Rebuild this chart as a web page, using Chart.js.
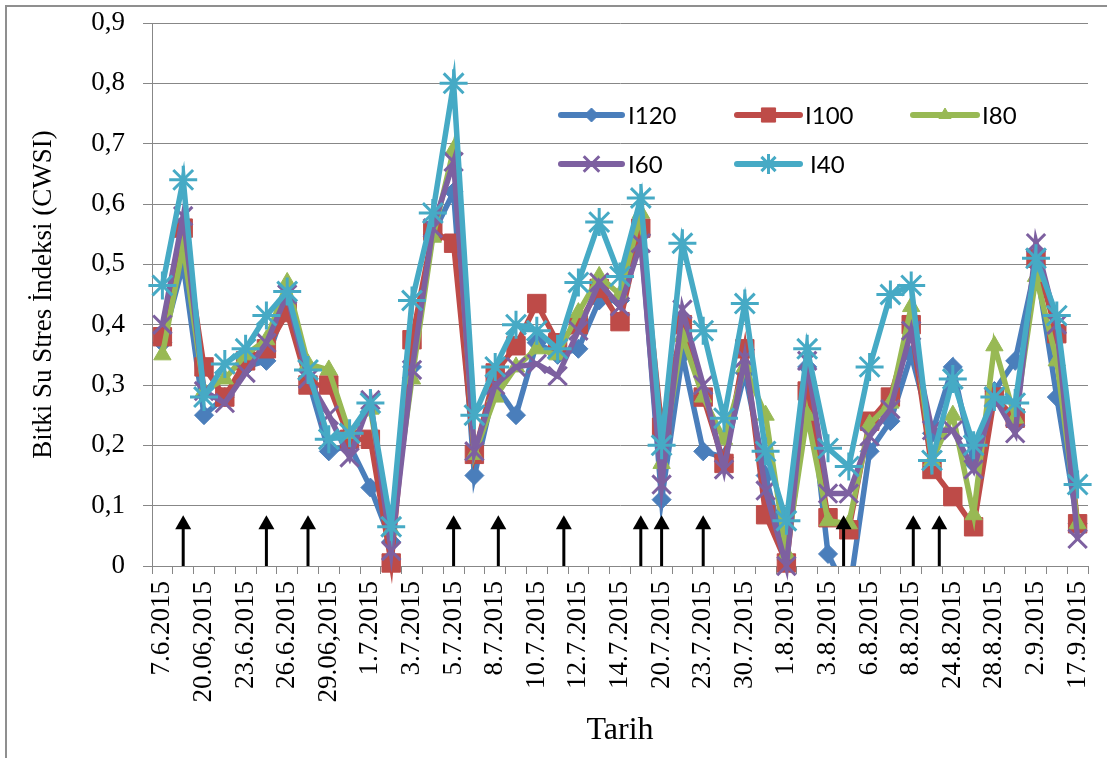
<!DOCTYPE html>
<html>
<head>
<meta charset="utf-8">
<script src="https://cdn.jsdelivr.net/npm/chart.js@4.4.0/dist/chart.umd.min.js"></script>
<style>
  html, body { margin: 0; padding: 0; background: #fff; }
  #wrap { position: relative; width: 1107px; height: 758px; }
</style>
</head>
<body>
<div id="wrap"><canvas id="c"></canvas></div>
<script>
// Category axis: 45 measurement dates, only every other one is labelled in the original
const categories = [
  '7.6.2015', '', '20.06,2015', '', '23.6.2015', '', '26.6.2015', '', '29.06,2015', '',
  '1.7.2015', '', '3.7.2015', '', '5.7.2015', '', '8.7.2015', '', '10.7.2015', '',
  '12.7.2015', '', '14.7.2015', '', '20.7.2015', '', '23.7.2015', '', '30.7.2015', '',
  '1.8.2015', '', '3.8.2015', '', '6.8.2015', '', '8.8.2015', '', '24.8.2015', '',
  '28.8.2015', '', '2.9.2015', '', '17.9.2015'
];

// CWSI series
const i120 = [0.37, 0.50, 0.25, 0.28, 0.33, 0.34, 0.44, 0.31, 0.19, 0.20,
              0.13, 0.04, 0.33, 0.55, 0.62, 0.15, 0.30, 0.25, 0.37, 0.35,
              0.36, 0.44, 0.44, 0.55, 0.11, 0.35, 0.19, 0.18, 0.32, 0.15,
              0.01, 0.33, 0.02, -0.05, 0.19, 0.24, 0.35, 0.22, 0.33, 0.17,
              0.29, 0.34, 0.50, 0.28, 0.07];
const i100 = [0.38, 0.56, 0.33, 0.28, 0.34, 0.36, 0.42, 0.30, 0.30, 0.21,
              0.21, 0.005, 0.375, 0.555, 0.535, 0.185, 0.32, 0.365, 0.435, 0.37,
              0.40, 0.46, 0.405, 0.56, 0.23, 0.40, 0.28, 0.17, 0.36, 0.085,
              0.005, 0.29, 0.08, 0.06, 0.24, 0.28, 0.40, 0.16, 0.115, 0.065,
              0.28, 0.245, 0.51, 0.385, 0.07];
const i80  = [0.35, 0.53, 0.29, 0.31, 0.35, 0.375, 0.47, 0.335, 0.325, 0.22,
              0.26, 0.06, 0.31, 0.545, 0.69, 0.185, 0.28, 0.33, 0.36, 0.35,
              0.42, 0.48, 0.45, 0.585, 0.17, 0.38, 0.28, 0.21, 0.33, 0.25,
              0.02, 0.25, 0.075, 0.07, 0.235, 0.27, 0.43, 0.175, 0.25, 0.085,
              0.365, 0.245, 0.48, 0.34, 0.07];
const i60  = [0.40, 0.58, 0.29, 0.27, 0.32, 0.37, 0.45, 0.31, 0.25, 0.18,
              0.275, 0.025, 0.325, 0.56, 0.67, 0.19, 0.30, 0.33, 0.335, 0.315,
              0.39, 0.47, 0.43, 0.535, 0.135, 0.425, 0.30, 0.16, 0.345, 0.125,
              0.0, 0.34, 0.12, 0.12, 0.215, 0.26, 0.39, 0.225, 0.225, 0.16,
              0.28, 0.22, 0.535, 0.40, 0.045];
const i40  = [0.465, 0.64, 0.28, 0.335, 0.36, 0.415, 0.455, 0.325, 0.21, 0.22,
              0.27, 0.065, 0.44, 0.585, 0.80, 0.25, 0.33, 0.40, 0.39, 0.36,
              0.47, 0.57, 0.48, 0.61, 0.20, 0.535, 0.39, 0.245, 0.435, 0.19,
              0.075, 0.36, 0.195, 0.165, 0.33, 0.45, 0.465, 0.175, 0.31, 0.20,
              0.28, 0.27, 0.51, 0.415, 0.135];

// Irrigation events (arrows), as positions on the category axis
const irrigationArrows = [1, 5, 7, 14, 16.15, 19.3, 23, 24, 26, 32.75, 36.1, 37.35];
const arrowTopValue = 0.084;

// Y axis ticks
const yMin = 0, yMax = 0.9, yStep = 0.1;

const serif = "'Liberation Serif', 'Times New Roman', serif";
const gridGray = '#878787';

function series(label, data, color, style, radius, borderW, order, clip) {
  return {
    label, data, order,
    borderColor: color, backgroundColor: color,
    pointBackgroundColor: color, pointBorderColor: color,
    pointStyle: style, pointRadius: radius, pointBorderWidth: borderW,
    pointHoverRadius: radius,
    borderWidth: 5.5, tension: 0, fill: false,
    clip: clip
  };
}

const datasets = [
  series('I120', i120, '#4A7EBB', 'rectRot', 9.5, 1, 4, {left: 30, right: 30, top: 30, bottom: 0}),
  series('I100', i100, '#BE4B48', 'rect', 13, 1, 3, false),
  series('I80',  i80,  '#98B954', 'triangle', 10, 1, 2, false),
  series('I60',  i60,  '#7D60A0', 'crossRot', 13, 3, 1, false),
  series('I40',  i40,  '#46AAC5', 'star', 14, 3, 0, false)
];

const legendLayout = [
  {idx: 0, x1: 561, x2: 622, tx: 628, y: 115, r: 7},
  {idx: 1, x1: 737, x2: 800, tx: 805, y: 115, r: 10},
  {idx: 2, x1: 913, x2: 977, tx: 982, y: 115, r: 7},
  {idx: 3, x1: 561, x2: 622, tx: 628, y: 164, r: 11},
  {idx: 4, x1: 737, x2: 800, tx: 810, y: 164, r: 10}
];

const framePlugin = {
  id: 'frame',
  beforeDraw(chart) {
    const {ctx, width, height} = chart;
    ctx.save();
    ctx.fillStyle = '#fff';
    ctx.fillRect(0, 0, width, height);
    ctx.strokeStyle = '#8f8f8f';
    ctx.lineWidth = 2;
    ctx.strokeRect(6, 6, width + 20, height + 20);
    ctx.restore();
  }
};

const arrowPlugin = {
  id: 'arrows',
  afterDatasetsDraw(chart) {
    const {ctx, scales: {x, y}} = chart;
    const yb = y.getPixelForValue(0);
    const yt = y.getPixelForValue(arrowTopValue);
    ctx.save();
    ctx.fillStyle = '#000';
    ctx.strokeStyle = '#000';
    irrigationArrows.forEach(p => {
      const px = x.getPixelForValue(p);
      ctx.lineWidth = 3;
      ctx.beginPath();
      ctx.moveTo(px, yb);
      ctx.lineTo(px, yt + 10);
      ctx.stroke();
      ctx.beginPath();
      ctx.moveTo(px, yt);
      ctx.lineTo(px - 8, yt + 14);
      ctx.lineTo(px + 8, yt + 14);
      ctx.closePath();
      ctx.fill();
    });
    ctx.restore();
  }
};

const legendPlugin = {
  id: 'customLegend',
  afterDraw(chart) {
    const {ctx} = chart;
    ctx.save();
    legendLayout.forEach(it => {
      const ds = chart.data.datasets[it.idx];
      ctx.strokeStyle = ds.borderColor;
      ctx.lineWidth = 6;
      ctx.lineCap = 'round';
      ctx.beginPath();
      ctx.moveTo(it.x1, it.y);
      ctx.lineTo(it.x2, it.y);
      ctx.stroke();
      ctx.lineCap = 'butt';
      ctx.fillStyle = ds.pointBackgroundColor;
      ctx.strokeStyle = ds.pointBorderColor;
      ctx.lineWidth = ds.pointBorderWidth;
      Chart.helpers.drawPoint(ctx, {
        pointStyle: ds.pointStyle, radius: it.r, rotation: 0, borderWidth: ds.pointBorderWidth
      }, (it.x1 + it.x2) / 2, it.y);
      ctx.fillStyle = '#000';
      ctx.font = "24px Lato, 'Open Sans', sans-serif";
      ctx.textAlign = 'left';
      ctx.textBaseline = 'middle';
      ctx.fillText(ds.label, it.tx, it.y + 1);
    });
    ctx.restore();
  }
};

new Chart(document.getElementById('c'), {
  type: 'line',
  data: { labels: categories, datasets },
  plugins: [framePlugin, arrowPlugin, legendPlugin],
  options: {
    responsive: true,
    maintainAspectRatio: false,
    animation: false,
    events: [],
    layout: { padding: { top: 23, right: 19, left: 0, bottom: 0 } },
    plugins: { legend: { display: false }, tooltip: { enabled: false } },
    scales: {
      x: {
        type: 'category',
        offset: true,
        grid: { display: true, drawOnChartArea: false, drawTicks: true, tickLength: 8, offset: true, color: gridGray, lineWidth: 1 },
        border: { display: true, color: gridGray, width: 1 },
        ticks: { autoSkip: false, minRotation: 90, maxRotation: 90, padding: 7, color: '#000',
                 font: { family: serif, size: 27 } },
        title: { display: true, text: 'Tarih', color: '#000',
                 font: { family: serif, size: 32 }, padding: { top: 0, bottom: 8 } },
        afterFit(s) { s.height = 192; s.paddingLeft = 0; s.paddingRight = 0; }
      },
      y: {
        min: yMin, max: yMax,
        grid: { color: gridGray, lineWidth: 1, drawTicks: true, tickLength: 9 },
        border: { display: true, color: gridGray, width: 1 },
        ticks: { stepSize: yStep, padding: 18, color: '#000',
                 font: { family: serif, size: 27 },
                 callback: v => (Math.abs(v) < 1e-9 ? '0' : v.toFixed(1).replace('.', ',')) },
        title: { display: true, text: 'Bitki Su Stres İndeksi (CWSI)', color: '#000',
                 font: { family: serif, size: 27 }, padding: { top: 28, bottom: 0 } },
        afterFit(s) { s.width = 152; s.paddingTop = 0; s.paddingBottom = 0; }
      }
    }
  }
});
</script>
</body>
</html>
